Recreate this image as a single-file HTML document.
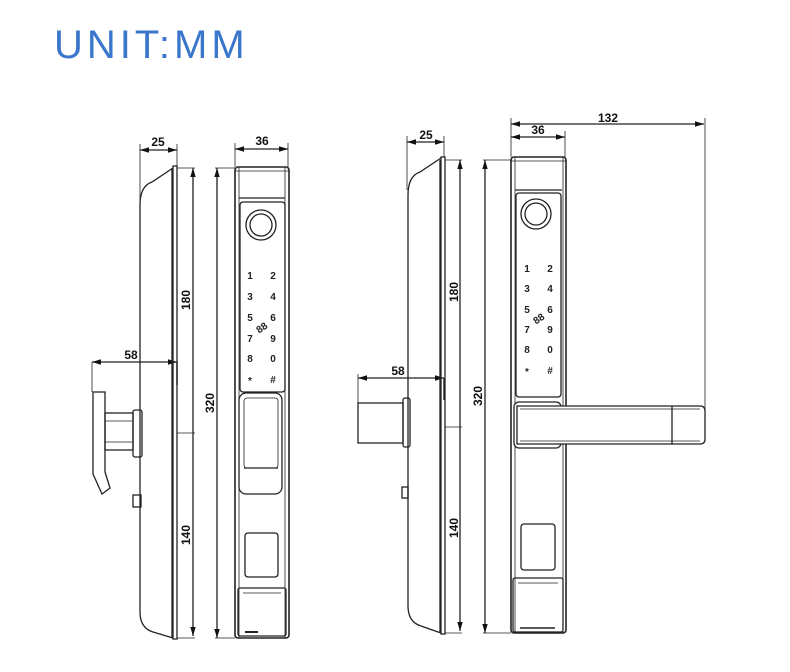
<!DOCTYPE html>
<html><head><style>
html,body{margin:0;padding:0;background:#fff;}
svg{display:block;}
.t{font-family:"Liberation Sans",Arial,sans-serif;font-weight:bold;font-size:12px;fill:#111;}
.k{font-family:"Liberation Sans",Arial,sans-serif;font-weight:bold;font-size:10px;fill:#222;text-anchor:middle;}
</style></head><body>
<svg width="790" height="672" viewBox="0 0 790 672" xmlns="http://www.w3.org/2000/svg">
<defs>
<marker id="a" viewBox="0 0 10 10" refX="10" refY="5" markerWidth="7" markerHeight="7" orient="auto-start-reverse"><path d="M0,2 L10,5 L0,8 z" fill="#111"/></marker>
</defs>
<text x="54" y="58" font-family="Liberation Sans, Arial, sans-serif" font-size="40" letter-spacing="4" fill="#3a76cc">UNIT:MM</text>

<g stroke="#222" stroke-width="1.3" fill="none">
<!-- ===== LEFT DRAWING ===== -->
<line x1="140" y1="150" x2="177" y2="150" marker-start="url(#a)" marker-end="url(#a)"/>
<line x1="140" y1="144" x2="140" y2="200" stroke-width="0.8"/>
<line x1="177" y1="144" x2="177" y2="167" stroke-width="0.8"/>
<line x1="235" y1="149" x2="288" y2="149" marker-start="url(#a)" marker-end="url(#a)"/>
<line x1="235" y1="143" x2="235" y2="167" stroke-width="0.8"/>
<line x1="288" y1="143" x2="288" y2="167" stroke-width="0.8"/>
<line x1="177" y1="168" x2="195" y2="168" stroke-width="0.8"/>
<line x1="193" y1="168" x2="193" y2="433" marker-start="url(#a)"/>
<line x1="177" y1="433" x2="195" y2="433" stroke-width="0.8"/>
<line x1="193" y1="433" x2="193" y2="636" marker-end="url(#a)"/>
<line x1="177" y1="638" x2="195" y2="638" stroke-width="0.8"/>
<line x1="215" y1="168" x2="235" y2="168" stroke-width="0.8"/>
<line x1="217" y1="168" x2="217" y2="638" marker-start="url(#a)" marker-end="url(#a)"/>
<line x1="215" y1="638" x2="235" y2="638" stroke-width="0.8"/>
<line x1="92" y1="362" x2="177" y2="362" marker-start="url(#a)" marker-end="url(#a)"/>
<line x1="92" y1="362" x2="92" y2="392" stroke-width="0.8"/>
<line x1="177" y1="362" x2="177" y2="385" stroke-width="1.4"/>
<!-- side profile -->
<path d="M140,205 Q140,186 152,182 L173,168"/>
<path d="M140,205 L140,612 Q140,628 153,632 L173,638"/>
<line x1="172" y1="168" x2="172" y2="638"/>
<rect x="173" y="166" width="4" height="473"/>
<!-- handle side -->
<path d="M93,392 L105,392 L105,472 L110,488 L102,494 L93,474 Z"/>
<rect x="105" y="413" width="28" height="37"/>
<line x1="105" y1="421" x2="133" y2="421" stroke-width="0.7"/>
<line x1="105" y1="442" x2="133" y2="442" stroke-width="0.7"/>
<rect x="133" y="410" width="9" height="47" rx="2"/>
<rect x="133" y="495" width="8" height="12"/>
<!-- front panel -->
<rect x="235" y="167" width="54" height="471" rx="3" stroke-width="1.6"/>
<line x1="239" y1="167" x2="239" y2="638" stroke-width="0.8"/>
<line x1="285" y1="167" x2="285" y2="638" stroke-width="0.8"/>
<line x1="235" y1="171" x2="289" y2="171" stroke-width="0.8"/>
<line x1="239" y1="198" x2="285" y2="198"/>
<rect x="240" y="202" width="45" height="190" rx="3"/>
<circle cx="261" cy="225" r="15"/>
<circle cx="261" cy="225" r="11"/>
<rect x="239" y="393" width="43" height="101" rx="7"/>
<rect x="244" y="398" width="34" height="70" rx="3" stroke-width="0.8"/>
<line x1="244" y1="468" x2="278" y2="468"/>
<rect x="245" y="533" width="33" height="44" rx="3"/>
<rect x="238" y="588" width="48" height="48" rx="2"/>
<line x1="243" y1="593" x2="281" y2="593" stroke-width="0.8"/>
<line x1="245" y1="632" x2="258" y2="632" stroke-width="2"/>

<!-- ===== RIGHT DRAWING ===== -->
<line x1="407" y1="142" x2="444" y2="142" marker-start="url(#a)" marker-end="url(#a)"/>
<line x1="407" y1="136" x2="407" y2="190" stroke-width="0.8"/>
<line x1="444" y1="136" x2="444" y2="157" stroke-width="0.8"/>
<line x1="511" y1="137" x2="565" y2="137" marker-start="url(#a)" marker-end="url(#a)"/>
<line x1="511" y1="124" x2="704" y2="124" marker-start="url(#a)" marker-end="url(#a)"/>
<line x1="511" y1="118" x2="511" y2="157" stroke-width="0.8"/>
<line x1="565" y1="131" x2="565" y2="157" stroke-width="0.8"/>
<line x1="705" y1="118" x2="705" y2="425" stroke-width="0.8"/>
<line x1="445" y1="160" x2="462" y2="160" stroke-width="0.8"/>
<line x1="460" y1="160" x2="460" y2="427" marker-start="url(#a)"/>
<line x1="445" y1="427" x2="462" y2="427" stroke-width="0.8"/>
<line x1="460" y1="427" x2="460" y2="631" marker-end="url(#a)"/>
<line x1="445" y1="633" x2="462" y2="633" stroke-width="0.8"/>
<line x1="483" y1="160" x2="511" y2="160" stroke-width="0.8"/>
<line x1="485" y1="160" x2="485" y2="633" marker-start="url(#a)" marker-end="url(#a)"/>
<line x1="483" y1="633" x2="511" y2="633" stroke-width="0.8"/>
<line x1="358" y1="378" x2="444" y2="378" marker-start="url(#a)" marker-end="url(#a)"/>
<line x1="358" y1="374" x2="358" y2="403" stroke-width="0.8"/>
<line x1="444" y1="378" x2="444" y2="400" stroke-width="1.4"/>
<!-- side profile -->
<path d="M408,195 Q408,176 420,172 L441,158"/>
<path d="M408,195 L408,606 Q408,622 421,626 L441,633"/>
<line x1="440" y1="160" x2="440" y2="633"/>
<rect x="441" y="157" width="4" height="477"/>
<rect x="358" y="403" width="45" height="40"/>
<rect x="403" y="398" width="7" height="49" rx="2"/>
<rect x="402" y="487" width="6" height="11"/>
<!-- front panel -->
<rect x="511" y="157" width="55" height="476" rx="3" stroke-width="1.6"/>
<line x1="563" y1="157" x2="563" y2="633" stroke-width="0.8"/>
<line x1="515" y1="157" x2="515" y2="633" stroke-width="0.8"/>
<line x1="511" y1="161" x2="566" y2="161" stroke-width="0.8"/>
<line x1="515" y1="190" x2="562" y2="190"/>
<rect x="516" y="193" width="45" height="204" rx="3"/>
<circle cx="536" cy="214" r="15"/>
<circle cx="536" cy="214" r="11"/>
<rect x="514" y="402" width="47" height="46" rx="5" fill="#fff"/>
<path d="M517,406 L700,406 Q705,406 705,411 L705,439 Q705,444 700,444 L517,444 Z" fill="#fff"/>
<line x1="520" y1="409" x2="700" y2="409" stroke-width="0.7"/>
<line x1="520" y1="441" x2="700" y2="441" stroke-width="0.7"/>
<line x1="672" y1="406" x2="672" y2="444"/>
<rect x="521" y="524" width="34" height="46" rx="3"/>
<rect x="513" y="578" width="50" height="54" rx="2"/>
<line x1="518" y1="583" x2="558" y2="583" stroke-width="0.8"/>
<line x1="520" y1="628" x2="555" y2="628" stroke-width="1.5"/>
</g>

<text class="t" x="158" y="146" text-anchor="middle">25</text>
<text class="t" x="262" y="145" text-anchor="middle">36</text>
<text class="t" x="131" y="359" text-anchor="middle">58</text>
<text class="t" transform="translate(190,300) rotate(-90)" text-anchor="middle">180</text>
<text class="t" transform="translate(190,535) rotate(-90)" text-anchor="middle">140</text>
<text class="t" transform="translate(214,403) rotate(-90)" text-anchor="middle">320</text>

<text class="t" x="426" y="139" text-anchor="middle">25</text>
<text class="t" x="538" y="134" text-anchor="middle">36</text>
<text class="t" x="608" y="122" text-anchor="middle">132</text>
<text class="t" x="398" y="375" text-anchor="middle">58</text>
<text class="t" transform="translate(458,292) rotate(-90)" text-anchor="middle">180</text>
<text class="t" transform="translate(458,528) rotate(-90)" text-anchor="middle">140</text>
<text class="t" transform="translate(482,396) rotate(-90)" text-anchor="middle">320</text>

<g class="k">
<text x="250" y="279">1</text><text x="273" y="279">2</text>
<text x="250" y="300">3</text><text x="273" y="300">4</text>
<text x="250" y="321">5</text><text x="273" y="321">6</text>
<text x="262" y="331" transform="rotate(-35 262 328)">88</text>
<text x="250" y="342">7</text><text x="273" y="342">9</text>
<text x="250" y="362">8</text><text x="273" y="362">0</text>
<text x="250" y="384">*</text><text x="273" y="383">#</text>

<text x="527" y="272">1</text><text x="550" y="272">2</text>
<text x="527" y="292">3</text><text x="550" y="292">4</text>
<text x="527" y="313">5</text><text x="550" y="313">6</text>
<text x="539" y="322" transform="rotate(-35 539 319)">88</text>
<text x="527" y="333">7</text><text x="550" y="333">9</text>
<text x="527" y="353">8</text><text x="550" y="353">0</text>
<text x="527" y="375">*</text><text x="550" y="374">#</text>
</g>
</svg>
</body></html>
